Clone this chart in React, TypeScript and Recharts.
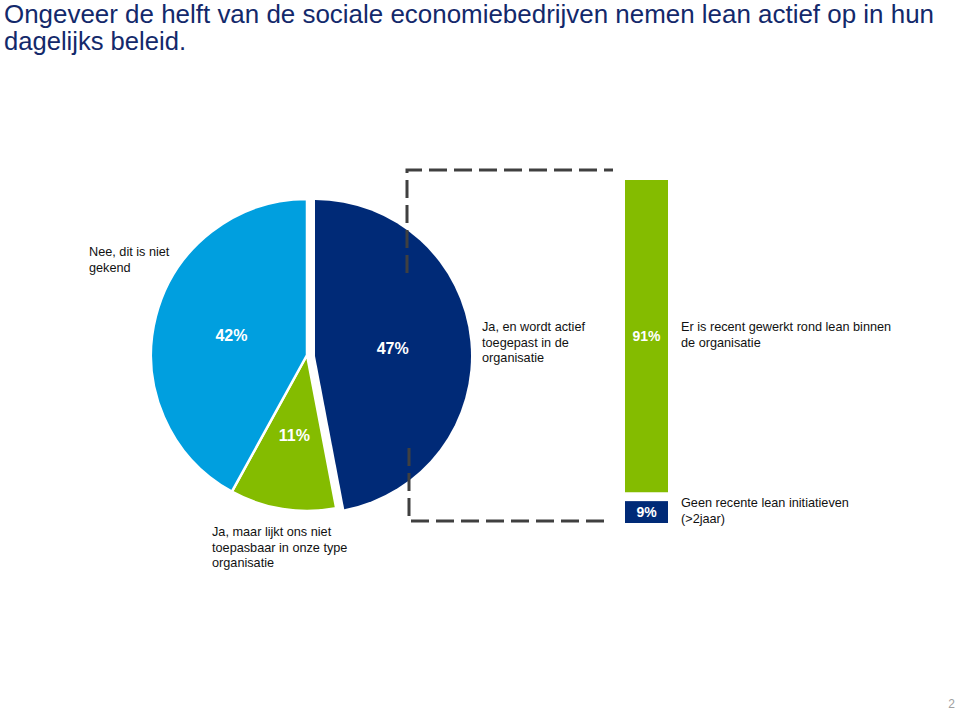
import React from "react";
import { PieChart, Pie, Cell, BarChart, Bar, XAxis, YAxis, LabelList } from "recharts";

// ---------- data ----------
const titleLines = [
  "Ongeveer de helft van de sociale economiebedrijven nemen lean actief op in hun",
  "dagelijks beleid.",
];

const pieCategories = [
  "Ja, en wordt actief toegepast in de organisatie",
  "Ja, maar lijkt ons niet toepasbaar in onze type organisatie",
  "Nee, dit is niet gekend",
];
const pieValues = [47, 11, 42];
const pieLabelLines = [
  ["Ja, en wordt actief", "toegepast in de", "organisatie"],
  ["Ja, maar lijkt ons niet", "toepasbaar in onze type", "organisatie"],
  ["Nee, dit is niet", "gekend"],
];

const barCategories = [
  "Geen recente lean initiatieven (>2jaar)",
  "Er is recent gewerkt rond lean binnen de organisatie",
];
const barValues = [9, 91];
const barLabelLines = [
  ["Geen recente lean initiatieven", "(>2jaar)"],
  ["Er is recent gewerkt rond lean binnen", "de organisatie"],
];

const pageNumber = "2";

// ---------- styles ----------
const NAVY = "#002a77";
const LIGHT = "#009fdf";
const GREEN = "#84bc00";
const pieColors = [NAVY, GREEN, LIGHT];
const FONT = "'Liberation Sans', Arial, sans-serif";
const RAD = Math.PI / 180;

const pieData = pieCategories.map((name, i) => ({ name, value: pieValues[i] }));
const barData = [
  { name: "lean", geen: barValues[0], recent: barValues[1] },
];

const pieLabelPos = [
  { x: 482, y: 331 },
  { x: 212, y: 536 },
  { x: 89, y: 256 },
];
const barLabelPos = [
  { x: 681, y: 507 },
  { x: 681, y: 331 },
];

const GAP = 9;

const makePieLabel = (visible: number[]) => (props: any) => {
  const { cx, cy, midAngle, outerRadius, index, value } = props;
  if (!visible.includes(index)) return null;
  const r = outerRadius * (index === 1 ? 0.52 : 0.5);
  const x = cx + r * Math.cos(-midAngle * RAD);
  const y = cy + r * Math.sin(-midAngle * RAD);
  return (
    <text
      x={x}
      y={y}
      fill="#ffffff"
      textAnchor="middle"
      dominantBaseline="central"
      fontFamily={FONT}
      fontWeight="bold"
      fontSize={16}
    >
      {`${value}%`}
    </text>
  );
};

const NavyShape = (props: any) => {
  const { x, y, width, height, fill } = props;
  return <rect x={x} y={y + GAP} width={width} height={Math.max(0, height - GAP)} fill={fill} />;
};

const navyLabel = (props: any) => {
  const { x, y, width, height, value } = props;
  return (
    <text
      x={x + width / 2}
      y={y + GAP + (height - GAP) / 2}
      fill="#fff"
      textAnchor="middle"
      dominantBaseline="central"
      fontFamily={FONT}
      fontWeight="bold"
      fontSize={14}
    >
      {`${value}%`}
    </text>
  );
};

const greenLabel = (props: any) => {
  const { x, y, width, height, value } = props;
  return (
    <text
      x={x + width / 2}
      y={y + height / 2}
      fill="#fff"
      textAnchor="middle"
      dominantBaseline="central"
      fontFamily={FONT}
      fontWeight="bold"
      fontSize={14}
    >
      {`${value}%`}
    </text>
  );
};

const MultiLine = ({ lines, x, y }: { lines: string[]; x: number; y: number }) => (
  <text x={x} y={y} fontFamily={FONT} fontSize={12.7} fill="#111111">
    {lines.map((l, i) => (
      <tspan key={i} x={x} dy={i === 0 ? 0 : 15.5}>
        {l}
      </tspan>
    ))}
  </text>
);

export default function App() {
  return (
    <div
      style={{
        position: "absolute",
        left: 0,
        top: 0,
        width: 959,
        height: 710,
        background: "#fff",
        overflow: "hidden",
      }}
    >
      <div style={{ position: "absolute", left: 0, top: 0 }}>
        <PieChart width={959} height={710} margin={{ top: 0, right: 0, bottom: 0, left: 0 }}>
          <Pie
            data={pieData}
            dataKey="value"
            nameKey="name"
            cx={307}
            cy={355}
            outerRadius={156}
            startAngle={90}
            endAngle={-270}
            isAnimationActive={false}
            labelLine={false}
            label={makePieLabel([1, 2])}
          >
            {pieData.map((d, i) => (
              <Cell
                key={d.name}
                fill={i === 0 ? "transparent" : pieColors[i]}
                stroke={i === 0 ? "none" : "#ffffff"}
                strokeWidth={2.5}
              />
            ))}
          </Pie>
          <Pie
            data={pieData}
            dataKey="value"
            nameKey="name"
            cx={315}
            cy={356}
            outerRadius={156}
            startAngle={90}
            endAngle={-270}
            isAnimationActive={false}
            labelLine={false}
            label={makePieLabel([0])}
          >
            {pieData.map((d, i) => (
              <Cell
                key={d.name}
                fill={i === 0 ? pieColors[0] : "transparent"}
                stroke="none"
              />
            ))}
          </Pie>
        </PieChart>
      </div>

      <div style={{ position: "absolute", left: 625, top: 180 }}>
        <BarChart
          width={43}
          height={343}
          data={barData}
          margin={{ top: 0, right: 0, bottom: 0, left: 0 }}
          barCategoryGap={0}
        >
          <XAxis dataKey="name" hide />
          <YAxis hide domain={[0, 100]} type="number" />
          <Bar
            dataKey="geen"
            name={barCategories[0]}
            stackId="s"
            fill={NAVY}
            shape={NavyShape}
            isAnimationActive={false}
          >
            <LabelList dataKey="geen" content={navyLabel} />
          </Bar>
          <Bar
            dataKey="recent"
            name={barCategories[1]}
            stackId="s"
            fill={GREEN}
            isAnimationActive={false}
          >
            <LabelList dataKey="recent" content={greenLabel} />
          </Bar>
        </BarChart>
      </div>

      <svg
        width={959}
        height={710}
        style={{ position: "absolute", left: 0, top: 0, pointerEvents: "none" }}
      >
        <text
          x={4}
          y={23}
          fontFamily={FONT}
          fontSize={25}
          fill="#13296b"
          textLength={930}
          lengthAdjust="spacingAndGlyphs"
        >
          {titleLines[0]}
        </text>
        <text
          x={4}
          y={50}
          fontFamily={FONT}
          fontSize={25}
          fill="#13296b"
          textLength={182}
          lengthAdjust="spacingAndGlyphs"
        >
          {titleLines[1]}
        </text>

        <path
          d="M 407 273 L 407 170 L 613 170"
          fill="none"
          stroke="#404040"
          strokeWidth={3}
          strokeDasharray="18 7"
        />
        <path
          d="M 409 448 L 409 521 L 610 521"
          fill="none"
          stroke="#404040"
          strokeWidth={3}
          strokeDasharray="18 7"
        />

        {pieLabelLines.map((lines, i) => (
          <MultiLine key={pieCategories[i]} lines={lines} x={pieLabelPos[i].x} y={pieLabelPos[i].y} />
        ))}
        {barLabelLines.map((lines, i) => (
          <MultiLine key={barCategories[i]} lines={lines} x={barLabelPos[i].x} y={barLabelPos[i].y} />
        ))}

        <text x={955} y={708} textAnchor="end" fontFamily={FONT} fontSize={12} fill="#a0a0a0">
          {pageNumber}
        </text>
      </svg>
    </div>
  );
}
